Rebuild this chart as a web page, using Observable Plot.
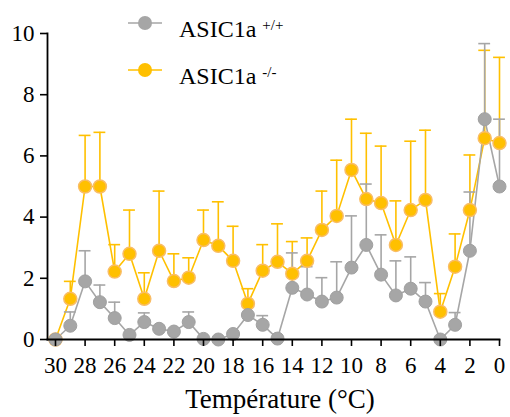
<!DOCTYPE html>
<html><head><meta charset="utf-8">
<script src="https://cdn.jsdelivr.net/npm/d3@7"></script>
<script src="https://cdn.jsdelivr.net/npm/@observablehq/plot@0.6"></script>
<style>
body{margin:0;background:#fff;}
#wrap{position:relative;width:510px;height:417px;font-family:"Liberation Serif",serif;}
#chart svg text{font-family:"Liberation Serif",serif !important;}
#legend{position:absolute;left:0;top:0;}
.lg{position:absolute;font-size:24px;line-height:28px;color:#000;white-space:nowrap;}
.lg sup{font-size:15px;vertical-align:baseline;position:relative;top:-7px;}
#xtitle{position:absolute;left:47px;width:466px;text-align:center;top:383px;font-size:27px;line-height:32px;color:#000;}
</style>
</head><body>
<div id="wrap"><div id="chart"></div><div id="legend"></div><div id="xtitle"></div></div>
<script>
const temps = [30,29,28,27,26,25,24,23,22,21,20,19,18,17,16,15,14,13,12,11,10,9,8,7,6,5,4,3,2,1,0];
const wtMean = [0,0.45,1.9,1.22,0.7,0.15,0.57,0.35,0.26,0.57,0.02,0,0.18,0.8,0.48,0.03,1.69,1.47,1.24,1.37,2.35,3.09,2.12,1.44,1.66,1.24,0,0.48,2.9,7.2,5.0];
const wtSem  = [0,0.45,1.0,0.56,0.52,0,0.3,0,0,0.33,0,0,0,0.33,0.3,0,1.14,0.91,0.78,1.17,1.69,1.99,1.3,1.13,1.04,0.62,0,0.4,1.92,2.47,2.2];
const koMean = [0,1.33,5.0,5.0,2.22,2.8,1.33,2.9,1.91,2.02,3.25,3.06,2.57,1.17,2.25,2.54,2.15,2.57,3.58,4.04,5.54,4.59,4.46,3.09,4.23,4.56,0.91,2.38,4.23,6.58,6.42];
const koSem  = [0,0.57,1.67,1.77,0.88,1.43,0.85,1.95,0.89,0.65,0.98,1.44,1.13,0.49,0.85,1.24,1.05,0.75,1.27,1.82,1.66,2.15,1.86,1.44,2.25,2.28,0.59,1.07,1.8,2.87,2.8];
const xTicks = [30,28,26,24,22,20,18,16,14,12,10,8,6,4,2,0];
const yTicks = [0,2,4,6,8,10];
const xTitle = "Température (°C)";
const seriesNames = ["ASIC1a", "ASIC1a"];
const seriesSup = ["+/+", "-/-"];
const grey = "#a6a6a6", gold = "#ffc000";

const wt = temps.map((t,i)=>({t, m: wtMean[i], hi: wtMean[i]+wtSem[i], s: wtSem[i]}));
const ko = temps.map((t,i)=>({t, m: koMean[i], hi: koMean[i]+koSem[i], s: koSem[i]}));
const capW = 0.4;

const errMarks = (data, color) => [
  Plot.ruleX(data.filter(d=>d.s>0), {x:"t", y1:"m", y2:"hi", stroke: color, strokeWidth: 1.6}),
  Plot.ruleY(data.filter(d=>d.s>0), {y:"hi", x1: d=>d.t+capW, x2: d=>d.t-capW, stroke: color, strokeWidth: 1.6})
];

const chart = Plot.plot({
  width: 510, height: 417,
  marginLeft: 47, marginRight: 11, marginTop: 33, marginBottom: 78,
  style: {fontFamily: "'Liberation Serif', serif", fontSize: "23px", color: "#000", background: "#fff"},
  x: {domain: [30.54, 0]},
  y: {domain: [0, 10]},
  marks: [
    Plot.line(ko, {x:"t", y:"m", stroke: gold, strokeWidth: 1.6}),
    ...errMarks(ko, gold),
    Plot.line(wt, {x:"t", y:"m", stroke: grey, strokeWidth: 1.6}),
    ...errMarks(wt, grey),
    Plot.dot(ko, {x:"t", y:"m", r: 6.5, fill: gold, stroke: "#f9bd66", strokeWidth: 1.5}),
    Plot.dot(wt, {x:"t", y:"m", r: 6.5, fill: grey, stroke: "#a0a0a0", strokeWidth: 1}),
    Plot.axisX({ticks: xTicks, tickSize: 7, tickPadding: 10, tickFormat: d=>String(d), strokeWidth: 1.6,
      label: null, fontSize: 23}),
    Plot.axisY({ticks: yTicks, tickSize: 7, tickPadding: 6, strokeWidth: 1.6, label: null, fontSize: 23}),
    Plot.frame({anchor: "left", stroke: "#000", strokeWidth: 1.8}),
    Plot.frame({anchor: "bottom", stroke: "#000", strokeWidth: 1.8})
  ]
});
document.getElementById("chart").appendChild(chart);
document.getElementById("xtitle").textContent = xTitle;

// legend
const lg = document.getElementById("legend");
const colors = [grey, gold];
const ys = [23, 70];
colors.forEach((c,i)=>{
  const svg = document.createElementNS("http://www.w3.org/2000/svg","svg");
  svg.setAttribute("width", 40); svg.setAttribute("height", 20);
  svg.style.position="absolute"; svg.style.left="126px"; svg.style.top=(ys[i]-10)+"px";
  svg.innerHTML = `<line x1="2" x2="36" y1="10" y2="10" stroke="${c}" stroke-width="1.6"/><circle cx="19" cy="10" r="7" fill="${c}"/>`;
  lg.appendChild(svg);
  const d = document.createElement("div");
  d.className="lg"; d.style.left="179px"; d.style.top=(ys[i]-8)+"px";
  d.innerHTML = `${seriesNames[i]} <sup>${seriesSup[i]}</sup>`;
  lg.appendChild(d);
});
</script>
</body></html>
